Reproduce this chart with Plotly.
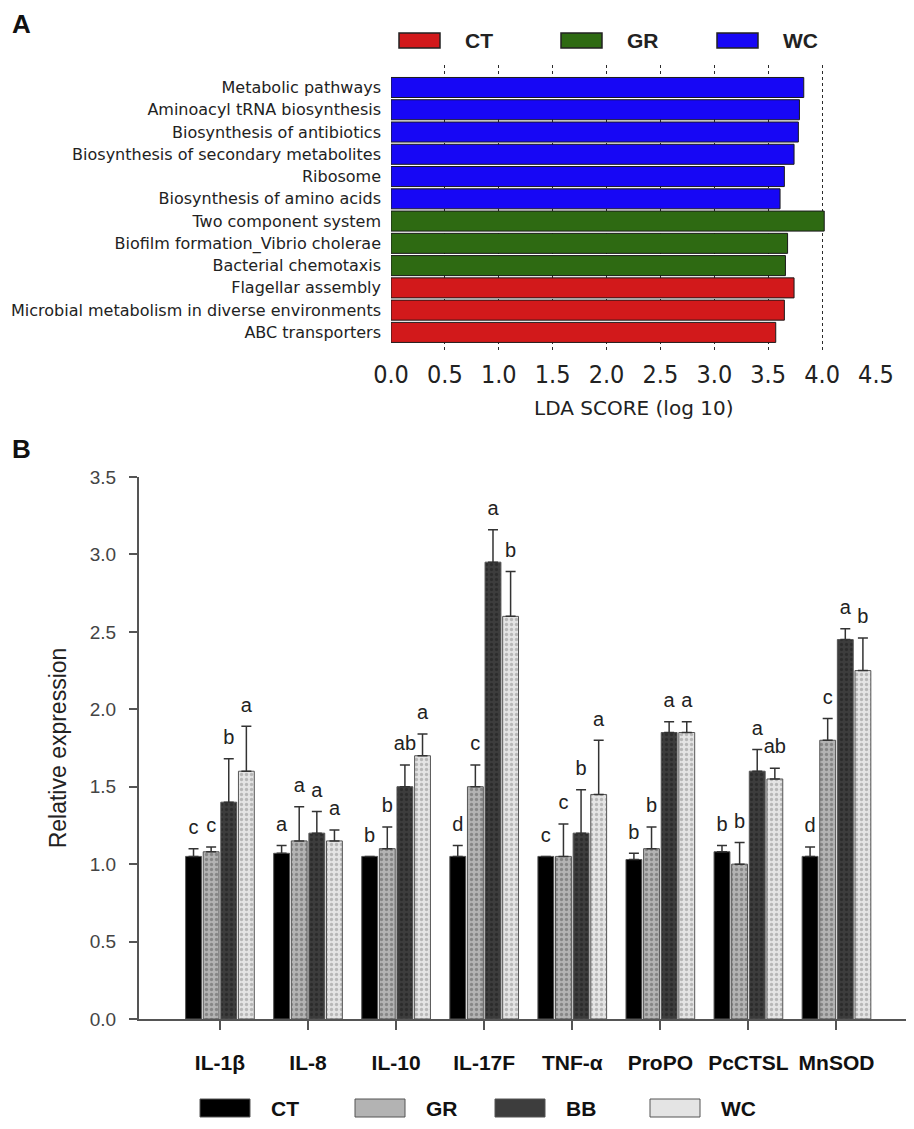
import numpy as np
import plotly.graph_objects as go

# ---------------- Panel A data ----------------
pathways = [
    "Metabolic pathways",
    "Aminoacyl tRNA biosynthesis",
    "Biosynthesis of antibiotics",
    "Biosynthesis of secondary metabolites",
    "Ribosome",
    "Biosynthesis of amino acids",
    "Two component system",
    "Biofilm formation_Vibrio cholerae",
    "Bacterial chemotaxis",
    "Flagellar assembly",
    "Microbial metabolism in diverse environments",
    "ABC transporters",
]
lda_scores = [3.83, 3.79, 3.78, 3.74, 3.65, 3.61, 4.02, 3.68, 3.66, 3.74, 3.65, 3.57]
lda_groups = ["WC", "WC", "WC", "WC", "WC", "WC", "GR", "GR", "GR", "CT", "CT", "CT"]
lda_group_order = ["CT", "GR", "WC"]
lda_colors = {"CT": "#d2191b", "GR": "#2e6a12", "WC": "#1707f5"}
lda_ticks = [0.0, 0.5, 1.0, 1.5, 2.0, 2.5, 3.0, 3.5, 4.0, 4.5]

# ---------------- Panel B data ----------------
genes = ["IL-1β", "IL-8", "IL-10", "IL-17F", "TNF-α", "ProPO", "PcCTSL", "MnSOD"]
treat = ["CT", "GR", "BB", "WC"]
expr = {
    "CT": [1.05, 1.07, 1.05, 1.05, 1.05, 1.03, 1.08, 1.05],
    "GR": [1.08, 1.15, 1.10, 1.50, 1.05, 1.10, 1.00, 1.80],
    "BB": [1.40, 1.20, 1.50, 2.95, 1.20, 1.85, 1.60, 2.45],
    "WC": [1.60, 1.15, 1.70, 2.60, 1.45, 1.85, 1.55, 2.25],
}
expr_err = {
    "CT": [0.05, 0.05, 0.00, 0.07, 0.00, 0.04, 0.04, 0.06],
    "GR": [0.03, 0.22, 0.14, 0.14, 0.21, 0.14, 0.14, 0.14],
    "BB": [0.28, 0.14, 0.14, 0.21, 0.28, 0.07, 0.14, 0.07],
    "WC": [0.29, 0.07, 0.14, 0.29, 0.35, 0.07, 0.07, 0.21],
}
sig_letters = {
    "CT": ["c", "a", "b", "d", "c", "b", "b", "d"],
    "GR": ["c", "a", "b", "c", "c", "b", "b", "c"],
    "BB": ["b", "a", "ab", "a", "b", "a", "a", "a"],
    "WC": ["a", "a", "a", "b", "a", "a", "ab", "b"],
}
y_ticks_b = [0.0, 0.5, 1.0, 1.5, 2.0, 2.5, 3.0, 3.5]

# ---------------- layout helpers (page has an 8px body margin) ----------------
PAGE_OFF = 8
W, H = 914 - PAGE_OFF, 1129 - PAGE_OFF
def px_x(p):
    return (p - PAGE_OFF) / W
def px_y(p):
    return 1 - (p - PAGE_OFF) / H

b_style = {
    "CT": dict(bg="#000000", fg="#000000", shape=""),
    "GR": dict(bg="#b3b3b3", fg="#5a5a5a", shape="."),
    "BB": dict(bg="#3d3d3d", fg="#1c1c1c", shape="."),
    "WC": dict(bg="#e4e4e4", fg="#8a8a8a", shape="."),
}
b_offset = {"CT": -0.3, "GR": -0.1, "BB": 0.1, "WC": 0.3}
bar_w = 0.18

fig = go.Figure()

# Panel A bars
for g in lda_group_order:
    ys = [p for p, gg in zip(pathways, lda_groups) if gg == g]
    xs = [s for s, gg in zip(lda_scores, lda_groups) if gg == g]
    fig.add_trace(go.Bar(
        x=xs, y=ys, orientation="h", name=g, width=0.9,
        marker=dict(color=lda_colors[g], line=dict(color="#1a1a1a", width=1)),
        xaxis="x", yaxis="y", showlegend=False,
    ))

# Panel B bars
xpos = np.arange(len(genes))
for t in treat:
    st = b_style[t]
    fig.add_trace(go.Bar(
        x=xpos, y=expr[t], name=t, width=bar_w, offset=b_offset[t] - bar_w / 2,
        marker=dict(
            color=st["bg"],
            line=dict(color="#555555", width=1),
            pattern=dict(shape=st["shape"], fgcolor=st["fg"], bgcolor=st["bg"],
                         size=5, solidity=0.35),
        ),
        error_y=dict(type="data", symmetric=False, array=expr_err[t],
                     arrayminus=[0] * len(genes), color="#333333",
                     thickness=1.5, width=5),
        xaxis="x2", yaxis="y2", showlegend=False,
    ))
    tops = np.array(expr[t]) + np.array(expr_err[t])
    fig.add_trace(go.Scatter(
        x=xpos + b_offset[t], y=tops, mode="markers+text", text=sig_letters[t],
        textposition="top center",
        textfont=dict(family="Liberation Sans, Arial", size=20, color="#222222"),
        marker=dict(size=14, opacity=0), cliponaxis=False,
        xaxis="x2", yaxis="y2", showlegend=False, hoverinfo="skip",
    ))

shapes = []
annotations = []

# Panel A legend (boxes + labels)
a_leg_box_x = [399, 561, 717]
for g, x0 in zip(lda_group_order, a_leg_box_x):
    shapes.append(dict(type="rect", xref="paper", yref="paper",
                       x0=px_x(x0), x1=px_x(x0 + 41), y0=px_y(48), y1=px_y(33),
                       fillcolor=lda_colors[g], line=dict(color="#222222", width=1.5)))
    annotations.append(dict(xref="paper", yref="paper", x=px_x(x0 + 64), y=px_y(40.5),
                            text="<b>%s</b>" % g, showarrow=False, xanchor="left",
                            yanchor="middle",
                            font=dict(family="Liberation Sans, Arial", size=21, color="#222222")))

# Panel B legend
b_leg_box_x = [200, 355, 495, 650]
for t, x0 in zip(treat, b_leg_box_x):
    shapes.append(dict(type="rect", xref="paper", yref="paper",
                       x0=px_x(x0), x1=px_x(x0 + 50), y0=px_y(1117), y1=px_y(1099),
                       fillcolor=b_style[t]["bg"], line=dict(color="#555555", width=1)))
    annotations.append(dict(xref="paper", yref="paper", x=px_x(x0 + 69), y=px_y(1108),
                            text="<b>%s</b>" % t, showarrow=False, xanchor="left",
                            yanchor="middle",
                            font=dict(family="Liberation Sans, Arial", size=21, color="#111111")))

# Panel letters (top-anchored so the text box stays inside the figure)
for lab, yy in [("A", 8), ("B", 433)]:
    annotations.append(dict(xref="paper", yref="paper", x=px_x(11), y=px_y(yy),
                            text="<b>%s</b>" % lab, showarrow=False, xanchor="left",
                            yanchor="top", borderpad=0,
                            font=dict(family="Liberation Sans, Arial", size=26, color="#111111")))

cond = "DejaVu Sans Condensed, DejaVu Sans"

fig.update_layout(
    width=W, height=H,
    margin=dict(l=0, r=0, t=0, b=0, autoexpand=False),
    paper_bgcolor="white", plot_bgcolor="white",
    barmode="overlay",
    showlegend=False,
    shapes=shapes, annotations=annotations,
    xaxis=dict(
        domain=[px_x(391), px_x(876.5)], range=[0, 4.505],
        tickvals=lda_ticks, ticktext=["%.1f" % v for v in lda_ticks],
        showgrid=True, griddash="3px,3px", gridcolor="#2a2a2a", gridwidth=1,
        zeroline=False, showline=False, ticks="",
        tickfont=dict(family=cond, size=25, color="#222222"),
        ticklabelstandoff=5,
        title=dict(text="LDA SCORE (log 10)", standoff=12,
                   font=dict(family="DejaVu Sans", size=20, color="#222222")),
        anchor="y", fixedrange=True, automargin=False,
    ),
    yaxis=dict(
        domain=[px_y(352), px_y(65)],
        type="category", categoryorder="array", categoryarray=pathways,
        range=[11.88, -1.01],
        showgrid=False, zeroline=False, showline=False, ticks="",
        tickfont=dict(family="DejaVu Sans", size=16, color="#222222"),
        ticklabelstandoff=9,
        anchor="x", automargin=False,
    ),
    xaxis2=dict(
        domain=[px_x(139), px_x(914)], range=[-0.919, 7.88],
        tickvals=list(xpos), ticktext=["<b>%s</b>" % g for g in genes],
        showgrid=False, zeroline=False,
        showline=True, linecolor="#555555", linewidth=2,
        ticks="outside", ticklen=9, tickwidth=1.5, tickcolor="#555555",
        tickfont=dict(family="Liberation Sans, Arial", size=21, color="#111111"),
        ticklabelstandoff=15,
        anchor="y2", automargin=False,
    ),
    yaxis2=dict(
        domain=[px_y(1019), px_y(477)], range=[0, 3.5],
        tickvals=y_ticks_b, ticktext=["%.1f" % v for v in y_ticks_b],
        showgrid=False, zeroline=False,
        showline=True, linecolor="#555555", linewidth=2,
        ticks="outside", ticklen=8, tickwidth=1.5, tickcolor="#555555",
        tickfont=dict(family="Liberation Sans, Arial", size=19, color="#444444"),
        ticklabelstandoff=9,
        title=dict(text="Relative expression", standoff=17,
                   font=dict(family="Liberation Sans, Arial", size=23, color="#222222")),
        anchor="x2", automargin=False,
    ),
)

fig.write_html("out.html")
